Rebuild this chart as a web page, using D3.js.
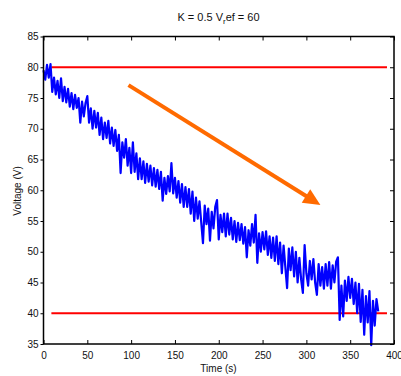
<!DOCTYPE html>
<html><head><meta charset="utf-8">
<script src="https://cdn.jsdelivr.net/npm/d3@7"></script>
<style>body{margin:0;background:#fff}svg{display:block}text{font-family:"Liberation Sans",Arial,Helvetica,sans-serif}</style>
</head><body><svg id="c" width="401" height="376"></svg>
<script>
const timeStep = 2;
const voltage = [
79.5,78,80.4,78.3,80.5,76,
78.3,75.6,77.8,75,78.2,
74.5,76.8,74.3,76.5,73.6,
75.8,73.2,75.5,73.4,75,
71,74.4,72,74.2,75.3,
71,73.3,70,72.9,70.2,
72.6,69,71.8,68.3,71,
68.5,71.3,67.6,70.2,67.2,
69.8,66.4,69,62.8,67.8,
65.3,68.3,64,66.9,62.8,
67.8,63,66,61.8,65.2,
61.8,64.7,61.2,64.3,61.4,
64,60.8,63.6,60.6,63.3,
60.2,63,58.3,62,59.4,
62.3,59.8,64.4,59.5,62,
58.8,61.5,58,61,57.3,
60.5,57.3,60.2,56.2,59.8,
55,58.8,55.4,58.2,54.8,
51.4,57.5,54.5,57,51.8,
56.5,53.8,57.3,58.4,52,
56,53.2,56.2,52.5,56.2,
52.8,55.5,52,55,51.6,
54.7,51.9,54.5,51.3,54,
49.1,53.5,51,54.5,51.5,
56,48.2,53,50,53.2,
50.4,53.3,49.5,52.5,49,
52.3,48.5,52.5,48,51.5,
46.5,51,47.5,44.1,50.5,
47,50.7,46,50,45,
49,45.5,43.3,51.1,46.5,
44.5,48.5,45.5,48.8,45,
43,48,44.5,47.5,44,
48,44.5,48.3,44,47.8,
45,48.4,49.1,38.9,44.5,
39.5,45.3,42,45.9,42.5,
45.6,41.5,45,40,44.8,
38.6,43.8,36.5,42.8,38.5,
43.6,34.8,42,38,42.3,40.3
];
const refLevels = [80, 40];
const refSpan = [9, 392];
const arrowFrom = [97, 77.1];
const arrowTo = [316, 57.6];
const xTicks = [0,50,100,150,200,250,300,350,400];
const yTicks = [35,40,45,50,55,60,65,70,75,80,85];

const svg = d3.select("#c");
const x = d3.scaleLinear([0,400],[43.5,394]);
const y = d3.scaleLinear([35,85],[344,36.5]);
const data = voltage.map((v,i)=>({t:i*timeStep, v}));

const line = d3.line().x(d=>x(d.t)).y(d=>y(d.v));
refLevels.forEach(l=>{
  svg.append("line").attr("x1",x(refSpan[0])).attr("x2",x(refSpan[1]))
    .attr("y1",y(l)).attr("y2",y(l)).attr("stroke","#ff0000").attr("stroke-width",1.8);
});
svg.append("path").datum(data).attr("d",line).attr("fill","none")
  .attr("stroke","#0000ff").attr("stroke-width",2.2).attr("stroke-linejoin","round");

const ax1=x(arrowFrom[0]), ay1=y(arrowFrom[1]), ax2=x(arrowTo[0]), ay2=y(arrowTo[1]);
const ang=Math.atan2(ay2-ay1, ax2-ax1);
const hl=17, hw=8;
const bx=ax2-hl*Math.cos(ang), by=ay2-hl*Math.sin(ang);
svg.append("line").attr("x1",ax1).attr("y1",ay1).attr("x2",bx+2*Math.cos(ang)).attr("y2",by+2*Math.sin(ang))
  .attr("stroke","#ff6a00").attr("stroke-width",4);
svg.append("path").attr("fill","#ff6a00").attr("d",
  `M${ax2},${ay2}L${bx-hw*Math.sin(ang)},${by+hw*Math.cos(ang)}L${bx+hw*Math.sin(ang)},${by-hw*Math.cos(ang)}Z`);

const fmt=d3.format("d");
const gB=svg.append("g").attr("transform","translate(0,344)")
  .call(d3.axisBottom(x).tickValues(xTicks).tickFormat(fmt).tickSizeInner(-4).tickSizeOuter(0).tickPadding(8));
const gT=svg.append("g").attr("transform","translate(0,36.5)")
  .call(d3.axisTop(x).tickValues(xTicks).tickFormat("").tickSizeInner(-4).tickSizeOuter(0));
const gL=svg.append("g").attr("transform","translate(43.5,0)")
  .call(d3.axisLeft(y).tickValues(yTicks).tickFormat(fmt).tickSizeInner(3).tickSizeOuter(0).tickPadding(2));
const gR=svg.append("g").attr("transform","translate(394,0)")
  .call(d3.axisRight(y).tickValues(yTicks).tickFormat("").tickSizeInner(-4).tickSizeOuter(0));
[gB,gT,gL,gR].forEach(g=>{
  g.select(".domain").remove();
  g.selectAll("line").attr("stroke","#000").attr("stroke-width",1);
  g.selectAll("text").attr("font-size",10).attr("fill","#111");
});
svg.append("rect").attr("x",43.5).attr("y",36.5).attr("width",394-43.5).attr("height",344-36.5)
  .attr("fill","none").attr("stroke","#000").attr("stroke-width",1.5);

const title=svg.append("text").attr("x",218.5).attr("y",20.5).attr("text-anchor","middle")
  .attr("font-size",11).attr("fill","#111");
title.append("tspan").text("K = 0.5 V");
title.append("tspan").attr("font-size",8).attr("dy",3).text("r");
title.append("tspan").attr("dy",-3).text("ef = 60");
svg.append("text").attr("x",218.5).attr("y",372).attr("text-anchor","middle")
  .attr("font-size",10).attr("fill","#111").text("Time (s)");
svg.append("text").attr("transform","translate(21,191) rotate(-90)").attr("text-anchor","middle")
  .attr("font-size",10).attr("fill","#111").text("Voltage (V)");
</script></body></html>
